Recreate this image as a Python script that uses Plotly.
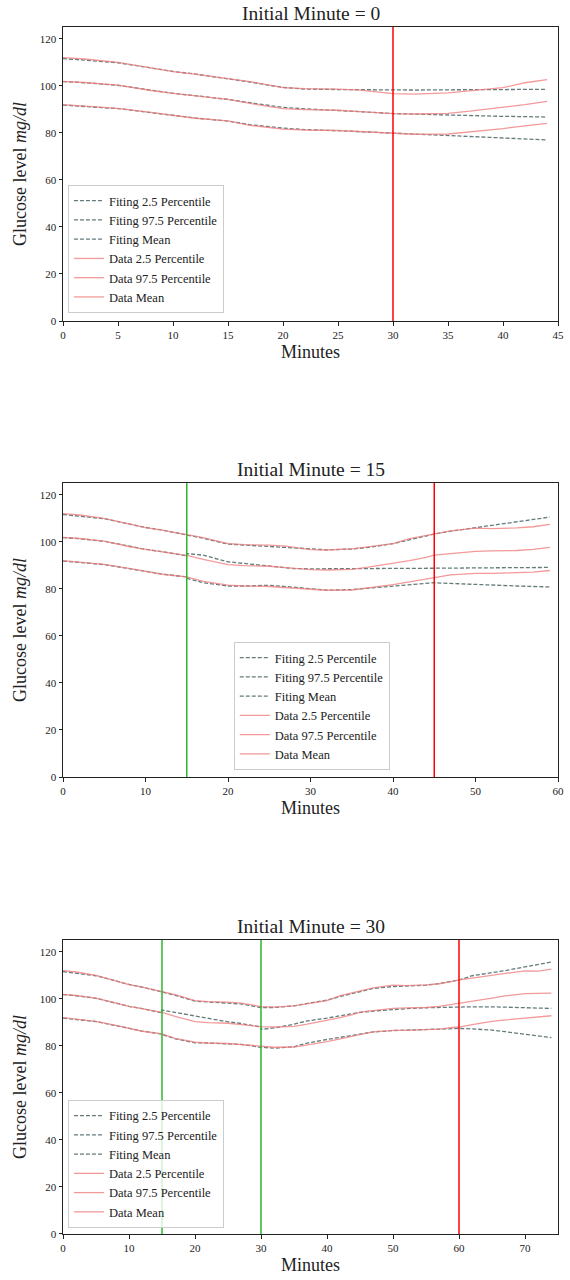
import plotly.graph_objects as go

# ---------------- data ----------------
# Observed data percentiles (shared by all panels)
data_min = [0, 2, 5, 8, 10, 12, 15, 17, 20, 22, 25, 27, 30, 32, 35, 37, 40, 42, 44, 45,
            47, 50, 52, 55, 57, 59, 60, 62, 65, 67, 70, 72, 74]
data_p975 = [112.0, 111.4, 110.0, 107.5, 106.0, 105.0, 103.1, 101.8, 99.2, 98.8, 98.6, 98.2,
             96.7, 96.5, 97.0, 97.8, 99.2, 101.3, 102.6, 103.4, 104.6, 105.8, 105.6, 105.9,
             106.4, 107.4, 108.0, 108.8, 110.1, 110.8, 111.9, 111.8, 112.6]
data_mean = [101.9, 101.4, 100.3, 98.0, 96.8, 95.8, 94.2, 92.5, 90.3, 89.9, 89.6, 89.0,
             88.2, 88.0, 88.3, 89.2, 90.8, 92.0, 93.4, 94.3, 95.0, 95.9, 96.1, 96.3,
             96.8, 97.6, 98.1, 99.0, 100.3, 101.2, 102.2, 102.3, 102.4]
data_p25 = [92.0, 91.4, 90.4, 88.7, 87.4, 86.2, 85.1, 83.2, 81.6, 81.2, 81.0, 80.6,
            79.7, 79.4, 79.5, 80.4, 81.8, 83.0, 84.0, 84.8, 85.9, 86.6, 86.6, 86.8,
            87.1, 87.8, 88.0, 89.0, 90.4, 91.0, 91.8, 92.1, 92.8]

# Panel 1 fit (initial minute 0)
fit1_min = [0, 2, 5, 8, 10, 12, 15, 17, 20, 22, 25, 27, 30, 32, 35, 37, 40, 42, 44]
fit1_p975 = [111.6, 111.0, 109.8, 107.6, 106.1, 105.0, 103.0, 101.6, 99.3, 98.6, 98.4, 98.3,
             98.2, 98.2, 98.3, 98.4, 98.4, 98.4, 98.5]
fit1_mean = [101.8, 101.3, 100.2, 98.0, 96.8, 95.8, 94.2, 92.8, 90.8, 90.2, 89.6, 89.0,
             88.2, 87.9, 87.6, 87.3, 87.0, 86.9, 86.7]
fit1_p25 = [91.8, 91.3, 90.3, 88.6, 87.4, 86.3, 85.0, 83.5, 82.0, 81.4, 80.9, 80.5,
            79.8, 79.4, 79.0, 78.5, 78.0, 77.6, 77.0]

# Panel 2 fit (initial minute 15)
fit2_min = [0, 2, 5, 8, 10, 12, 15, 15, 17, 20, 22, 25, 28, 30, 32, 35, 37, 40, 42, 45,
            47, 50, 52, 55, 57, 59]
fit2_p975 = [111.6, 111.0, 109.8, 107.6, 106.1, 105.0, 103.0, 103.0, 101.5, 99.0, 98.6, 98.2,
             97.6, 97.0, 96.6, 96.9, 97.6, 99.2, 100.8, 103.3, 104.5, 106.0, 106.9, 108.3,
             109.3, 110.5]
fit2_mean = [101.8, 101.3, 100.2, 98.0, 96.8, 95.8, 94.0, 95.0, 94.3, 91.5, 90.8, 89.9,
             88.6, 88.5, 88.5, 88.5, 88.6, 88.7, 88.7, 88.8, 88.8, 88.9, 88.9, 89.0,
             89.0, 89.1]
fit2_p25 = [91.8, 91.3, 90.3, 88.6, 87.4, 86.3, 85.0, 84.5, 82.6, 81.2, 81.2, 81.5,
            80.7, 80.0, 79.4, 79.7, 80.3, 81.3, 82.0, 82.6, 82.3, 81.8, 81.6, 81.2,
            81.0, 80.8]

# Panel 3 fit (initial minute 30)
fit3_min = [0, 2, 5, 8, 10, 12, 15, 15, 17, 20, 22, 25, 27, 30, 30, 32, 35, 37, 40, 42, 45,
            47, 50, 52, 55, 57, 60, 62, 65, 67, 70, 72, 74]
fit3_p975 = [111.6, 111.0, 109.8, 107.6, 106.1, 105.0, 103.0, 103.0, 101.5, 99.0, 98.6, 98.2,
             97.8, 96.3, 96.3, 96.3, 97.0, 98.0, 99.5, 101.0, 103.2, 104.4, 105.2, 105.5,
             105.8, 106.5, 108.0, 109.8, 111.0, 112.0, 113.6, 114.5, 115.6]
fit3_mean = [101.8, 101.3, 100.2, 98.0, 96.8, 95.8, 94.0, 95.2, 94.2, 92.5, 91.5, 90.2,
             89.5, 88.0, 87.0, 87.6, 89.2, 90.6, 91.8, 92.8, 94.2, 94.8, 95.5, 95.8,
             96.2, 96.4, 96.6, 96.6, 96.6, 96.5, 96.3, 96.1, 95.9]
fit3_p25 = [91.8, 91.3, 90.3, 88.6, 87.4, 86.3, 85.0, 84.8, 83.0, 81.3, 81.2, 81.0,
            80.6, 79.4, 79.4, 79.0, 79.6, 81.2, 82.7, 83.7, 85.0, 85.9, 86.5, 86.7,
            86.9, 87.2, 87.4, 87.2, 86.7, 86.0, 85.0, 84.3, 83.5]

initial_minutes = [0, 15, 30]
x_max = [45, 60, 75]
x_dtick = [5, 10, 10]
green_lines = [[], [15], [15, 30]]
red_lines = [30, 45, 60]
fits = [(fit1_min, fit1_p25, fit1_p975, fit1_mean),
        (fit2_min, fit2_p25, fit2_p975, fit2_mean),
        (fit3_min, fit3_p25, fit3_p975, fit3_mean)]

# ---------------- layout geometry ----------------
W, H = 570, 1280
ml, mr, mt, mb = 63, 6, 27, 46
domains = [[0.75642, 1.0], [0.37862, 0.62221], [0.0, 0.24358]]
legend_pos = [(0.01, 0.763), (0.345, 0.3844), (0.01, 0.005)]

FONT = "Liberation Serif"
FIT_COLOR = "rgba(47,79,79,0.75)"
DATA_COLOR = "rgba(240,128,128,0.8)"

fig = go.Figure()

for i in range(3):
    ax = "" if i == 0 else str(i + 1)
    leg = "legend" if i == 0 else f"legend{i + 1}"
    xmax = x_max[i]
    fm, f25, f975, fmean = fits[i]
    dm = [m for m in data_min if m < xmax]
    n = len(dm)
    series = [
        ("Fiting 2.5 Percentile", fm, f25, FIT_COLOR, "4px,2px"),
        ("Fiting 97.5 Percentile", fm, f975, FIT_COLOR, "4px,2px"),
        ("Fiting Mean", fm, fmean, FIT_COLOR, "4px,2px"),
        ("Data 2.5 Percentile", dm, data_p25[:n], DATA_COLOR, "solid"),
        ("Data 97.5 Percentile", dm, data_p975[:n], DATA_COLOR, "solid"),
        ("Data Mean", dm, data_mean[:n], DATA_COLOR, "solid"),
    ]
    for name, xs, ys, col, dash in series:
        fig.add_trace(go.Scatter(
            x=xs, y=ys, mode="lines", name=name,
            line=dict(color=col, width=1.3, dash=dash),
            xaxis="x" + ax, yaxis="y" + ax, legend=leg, showlegend=True,
        ))
    # vertical markers
    for g in green_lines[i]:
        fig.add_shape(type="line", x0=g, x1=g, y0=0, y1=1,
                      xref="x" + ax, yref=f"y{ax} domain",
                      line=dict(color="#2db52d", width=1.5))
    fig.add_shape(type="line", x0=red_lines[i], x1=red_lines[i], y0=0, y1=1,
                  xref="x" + ax, yref=f"y{ax} domain",
                  line=dict(color="#ff0000", width=1.5))

    axis_common = dict(
        showline=True, linecolor="#222222", linewidth=1, mirror=True,
        ticks="outside", ticklen=3.5, tickwidth=1, tickcolor="#222222",
        showgrid=False, zeroline=False,
        tickfont=dict(family=FONT, size=11, color="#222222"),
    )
    fig.update_layout(**{
        f"xaxis{ax}": dict(
            domain=[0, 1], anchor="y" + ax, range=[0, xmax], dtick=x_dtick[i], tick0=0,
            title=dict(text="Minutes", font=dict(family=FONT, size=18, color="#222222"),
                       standoff=5),
            **axis_common),
        f"yaxis{ax}": dict(
            domain=domains[i], anchor="x" + ax, range=[0, 125], dtick=20, tick0=0,
            title=dict(text="Glucose level <i>mg/dl</i>",
                       font=dict(family=FONT, size=18, color="#222222"), standoff=8),
            **axis_common),
        leg: dict(
            x=legend_pos[i][0], y=legend_pos[i][1], xanchor="left", yanchor="bottom",
            xref="paper", yref="paper",
            bgcolor="rgba(255,255,255,0.8)", bordercolor="#cccccc", borderwidth=1,
            font=dict(family=FONT, size=12.5, color="#222222"),
            tracegroupgap=0, itemwidth=30,
        ),
    })
    fig.add_annotation(
        text=f"Initial Minute = {initial_minutes[i]}",
        x=0.5, y=domains[i][1], xref="paper", yref="paper",
        xanchor="center", yanchor="bottom", yshift=1, showarrow=False,
        font=dict(family=FONT, size=19.5, color="#222222"),
    )

fig.update_layout(
    width=W, height=H,
    margin=dict(l=ml, r=mr, t=mt, b=mb),
    paper_bgcolor="white", plot_bgcolor="white",
    showlegend=True,
)

fig.write_html("out.html")
